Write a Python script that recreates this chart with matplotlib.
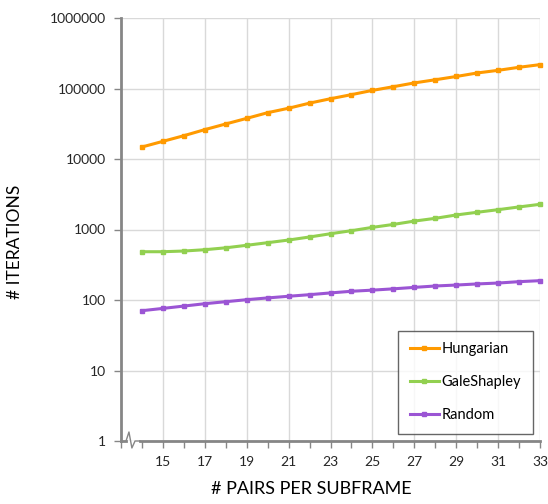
import matplotlib
matplotlib.use('Agg')
import matplotlib.pyplot as plt
import matplotlib.transforms as mtransforms
from matplotlib.ticker import FixedLocator, NullFormatter

pairs = list(range(14, 34))
hungarian = [14800, 17800, 21400, 26100, 31400, 37700, 45400, 52500, 62000, 71600,
             81800, 94000, 106000, 120000, 133000, 148000, 166000, 181000, 200000, 218000]
gale_shapley = [484, 484, 495, 517, 550, 597, 650, 709, 783, 871,
                962, 1072, 1180, 1316, 1440, 1607, 1755, 1910, 2090, 2276]
random_alg = [70.5, 76, 82, 88.6, 94.6, 101, 107, 113, 119, 126,
              133, 138, 144, 151, 158, 163, 169, 174, 182, 188]
x_ticks = [15, 17, 19, 21, 23, 25, 27, 29, 31, 33]
y_ticks = [1, 10, 100, 1000, 10000, 100000, 1000000]

plt.rcParams['font.family'] = ['Lato', 'DejaVu Sans']

fig = plt.figure(figsize=(5.48, 5.04), dpi=100)
ax = fig.add_axes([121/548, 1 - 441/504, 419/548, 423/504])

ax.plot(pairs, hungarian, color='#FF9A00', lw=2.2, marker='s', ms=3.2, label='Hungarian', clip_on=False, zorder=3)
ax.plot(pairs, gale_shapley, color='#92D050', lw=2.2, marker='s', ms=3.2, label='GaleShapley', clip_on=False, zorder=3)
ax.plot(pairs, random_alg, color='#9B55D4', lw=2.2, marker='s', ms=3.2, label='Random', clip_on=False, zorder=3)

ax.set_yscale('log')
ax.set_ylim(1, 1000000)
ax.set_xlim(13, 33)
ax.yaxis.set_major_locator(FixedLocator(y_ticks))
ax.yaxis.set_minor_locator(FixedLocator([]))
ax.set_yticklabels([str(v) for v in y_ticks])
ax.xaxis.set_major_locator(FixedLocator(x_ticks))
ax.xaxis.set_minor_locator(FixedLocator([13, 14, 16, 18, 20, 22, 24, 26, 28, 30, 32]))
ax.xaxis.set_minor_formatter(NullFormatter())

ax.grid(True, which='major', color='#D9D9D9', lw=1.0, zorder=0)
ax.set_axisbelow(True)

for s in ['top', 'right', 'bottom']:
    ax.spines[s].set_visible(False)
ax.spines['left'].set_color('#868686')
ax.spines['left'].set_linewidth(2.0)

ax.tick_params(axis='both', which='both', direction='out', color='#868686', length=5, width=1,
               labelsize=10, labelcolor='#262626')
ax.tick_params(axis='x', which='major', pad=6)
ax.tick_params(axis='y', which='major', pad=6)

# bottom axis with break mark
trans = mtransforms.blended_transform_factory(ax.transData, ax.transAxes)
ax.plot([13, 13.24], [0, 0], color='#868686', lw=2.0, transform=trans, clip_on=False, zorder=4)
ax.plot([13.24, 13.38, 13.52, 13.67, 13.9], [0, 0.0213, -0.0165, 0, 0], color='#868686', lw=1.0,
        transform=trans, clip_on=False, zorder=4)
ax.plot([13.9, 33], [0, 0], color='#868686', lw=2.0, transform=trans, clip_on=False, zorder=4)

ax.set_xlabel('# PAIRS PER SUBFRAME', fontsize=13, color='#000000')
ax.set_ylabel('# ITERATIONS', fontsize=12.5, color='#000000')
ax.xaxis.set_label_coords(0.455, -0.095)
ax.yaxis.set_label_coords(-0.234, 0.47)

leg = ax.legend(loc='lower right', bbox_to_anchor=(0.983, 0.0165), fontsize=10.5, frameon=True,
                fancybox=False, labelspacing=1.3, handlelength=2.0, handletextpad=0.2,
                borderpad=0.8, borderaxespad=0)
leg.get_frame().set_edgecolor('#404040')
leg.get_frame().set_linewidth(1.0)

fig.savefig('out.png', dpi=100)
